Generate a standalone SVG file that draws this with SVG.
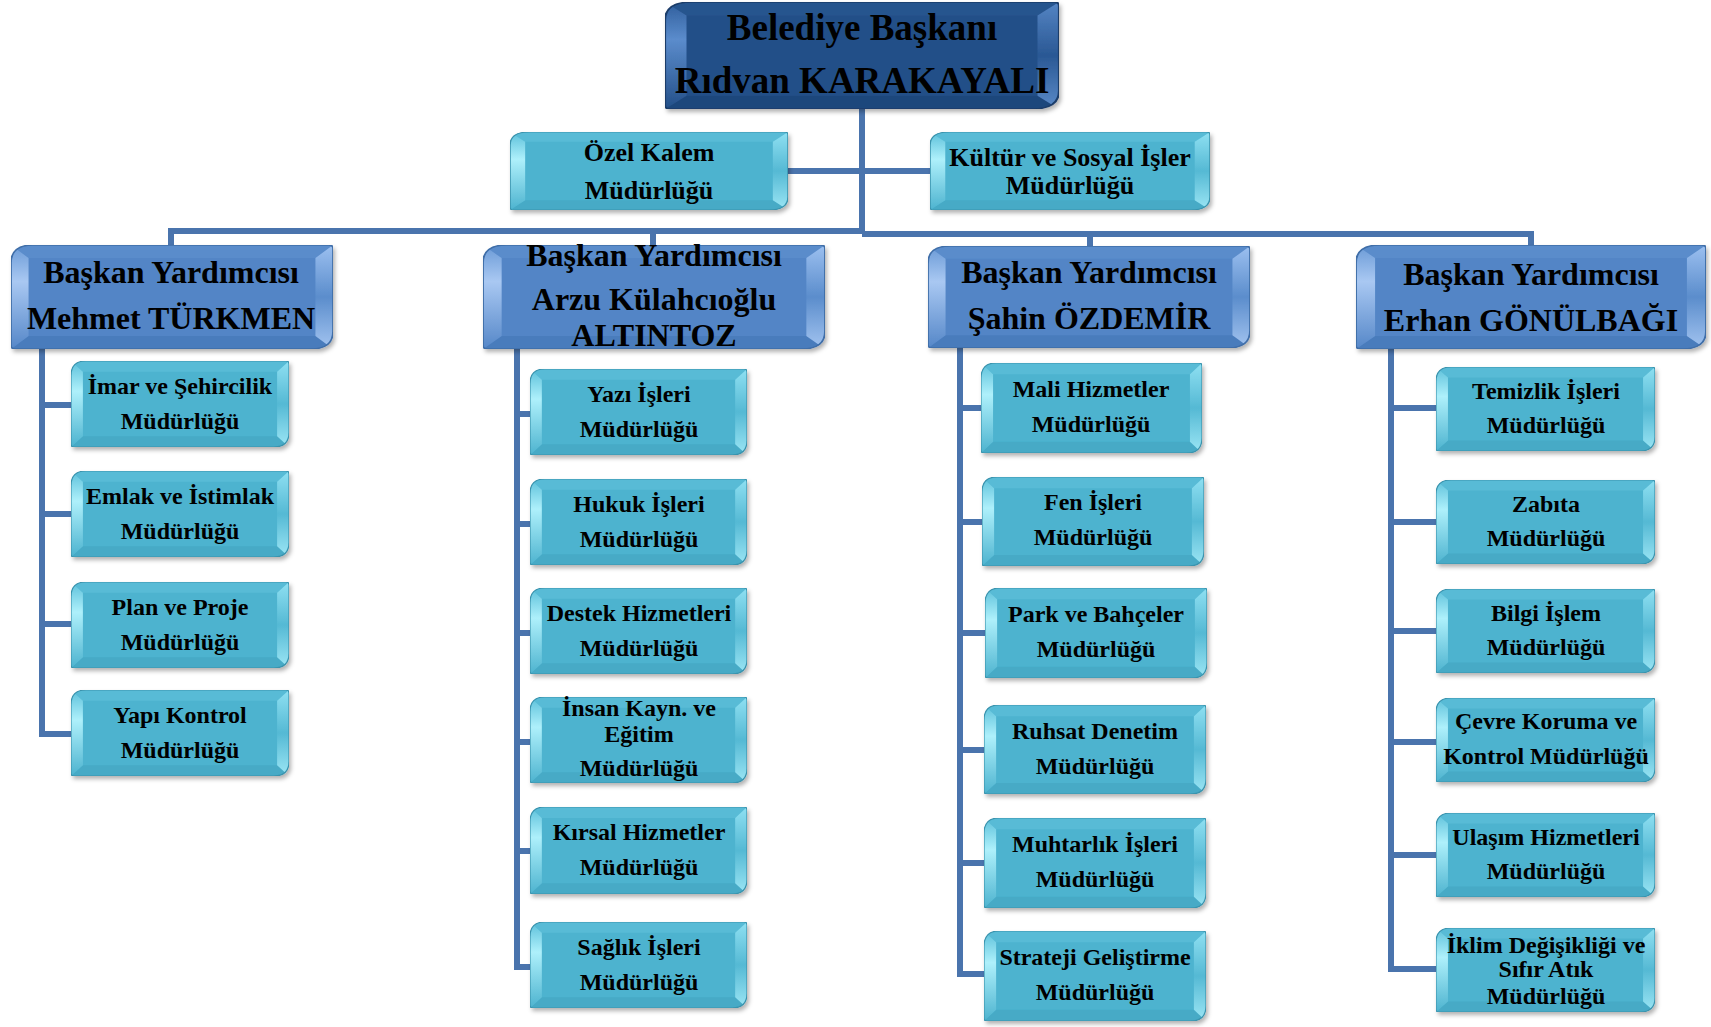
<svg xmlns="http://www.w3.org/2000/svg" xmlns:xlink="http://www.w3.org/1999/xlink" width="1711" height="1027" viewBox="0 0 1711 1027">
<style>
text{font-family:"Liberation Serif","Times New Roman",serif;font-weight:bold;fill:#000;text-anchor:middle}
.t1{font-size:37px}
.t2{font-size:32px}
.t3{font-size:24px}
.t4{font-size:26px}
.c{fill:none;stroke:#4a74ad;stroke-width:6;stroke-linejoin:miter}
</style>
<defs>
<filter id="sh" x="-5%" y="-5%" width="115%" height="125%">
<feDropShadow dx="2" dy="3" stdDeviation="2" flood-color="#000" flood-opacity="0.3"/>
</filter>
<clipPath id="cp"><path d="M15,0 H217 Q220,0 220,3 V73 Q220,88 205,88 H3 Q0,88 0,85 V15 Q0,0 15,0 Z"/></clipPath>
<linearGradient id="gcL" x1="0" y1="0" x2="0" y2="1"><stop offset="0" stop-color="#5cc0da"/><stop offset="0.35" stop-color="#aef0fb"/><stop offset="1" stop-color="#4db3cf"/></linearGradient>
<linearGradient id="gcR" x1="0" y1="0" x2="0" y2="1"><stop offset="0" stop-color="#8fe0f2"/><stop offset="0.5" stop-color="#55b9d4"/><stop offset="1" stop-color="#9ce6f5"/></linearGradient>
<linearGradient id="gbL" x1="0" y1="0" x2="0" y2="1"><stop offset="0" stop-color="#6a9ad6"/><stop offset="0.35" stop-color="#a9c8f2"/><stop offset="1" stop-color="#5587c8"/></linearGradient>
<linearGradient id="gbR" x1="0" y1="0" x2="0" y2="1"><stop offset="0" stop-color="#9cc0f0"/><stop offset="0.5" stop-color="#5b8dcc"/><stop offset="1" stop-color="#a3c4f0"/></linearGradient>
<linearGradient id="gdL" x1="0" y1="0" x2="0" y2="1"><stop offset="0" stop-color="#2f5e9c"/><stop offset="0.35" stop-color="#5b8ccc"/><stop offset="1" stop-color="#234f88"/></linearGradient>
<linearGradient id="gdR" x1="0" y1="0" x2="0" y2="1"><stop offset="0" stop-color="#5585c4"/><stop offset="0.5" stop-color="#2a5894"/><stop offset="1" stop-color="#5a8ac8"/></linearGradient>
<symbol id="child" viewBox="0 0 220 88" preserveAspectRatio="none">
<g clip-path="url(#cp)">
<rect x="0" y="0" width="220" height="88" fill="#4db3cf"/>
<polygon points="0,0 220,0 208,11 12,11" fill="#58bbd6"/>
<polygon points="0,88 220,88 208,77 12,77" fill="#46aac6"/>
<polygon points="0,0 12,11 12,77 0,88" fill="url(#gcL)"/>
<polygon points="220,0 208,11 208,77 220,88" fill="url(#gcR)"/>
</g>
<path d="M15,0 H217 Q220,0 220,3 V73 Q220,88 205,88 H3 Q0,88 0,85 V15 Q0,0 15,0 Z" fill="none" stroke="#3a93ad" stroke-width="1.2"/>
</symbol>
<symbol id="vp" viewBox="0 0 220 88" preserveAspectRatio="none">
<g clip-path="url(#cp)">
<rect x="0" y="0" width="220" height="88" fill="#5285c6"/>
<polygon points="0,0 220,0 208,11 12,11" fill="#5a8ccb"/>
<polygon points="0,88 220,88 208,77 12,77" fill="#4a7cbc"/>
<polygon points="0,0 12,11 12,77 0,88" fill="url(#gbL)"/>
<polygon points="220,0 208,11 208,77 220,88" fill="url(#gbR)"/>
</g>
<path d="M15,0 H217 Q220,0 220,3 V73 Q220,88 205,88 H3 Q0,88 0,85 V15 Q0,0 15,0 Z" fill="none" stroke="#3f6ea8" stroke-width="1.2"/>
</symbol>
<symbol id="top" viewBox="0 0 220 88" preserveAspectRatio="none">
<g clip-path="url(#cp)">
<rect x="0" y="0" width="220" height="88" fill="#234f88"/>
<polygon points="0,0 220,0 208,11 12,11" fill="#28558e"/>
<polygon points="0,88 220,88 208,77 12,77" fill="#1f477c"/>
<polygon points="0,0 12,11 12,77 0,88" fill="url(#gdL)"/>
<polygon points="220,0 208,11 208,77 220,88" fill="url(#gdR)"/>
</g>
<path d="M15,0 H217 Q220,0 220,3 V73 Q220,88 205,88 H3 Q0,88 0,85 V15 Q0,0 15,0 Z" fill="none" stroke="#1a3c69" stroke-width="1.2"/>
</symbol>
</defs>
<rect width="1711" height="1027" fill="#fff"/>

<g id="connectors">
<path class="c" d="M862,108 V233"/>
<path class="c" d="M787,171 H931"/>
<path class="c" d="M171,247 V231 H862 M862,234 H1531 V247"/>
<path class="c" d="M653,231 V247"/>
<path class="c" d="M1090,234 V247"/>
<path class="c" d="M42,348 V734 H72 M42,405 H72 M42,514 H72 M42,624 H72"/>
<path class="c" d="M517,348 V967 H531 M517,414 H531 M517,524 H531 M517,633 H531 M517,742 H531 M517,851 H531"/>
<path class="c" d="M960,348 V974 H985 M960,408 H982 M960,522 H983 M960,633 H986 M960,750 H985 M960,863 H985"/>
<path class="c" d="M1391,348 V969 H1437 M1391,408 H1437 M1391,522 H1437 M1391,631 H1437 M1391,742 H1437 M1391,855 H1437"/>
</g>

<g id="n-baskan"><use xlink:href="#top" x="665" y="2" width="394" height="107" filter="url(#sh)"/>
<text class="t1" x="862" y="40">Belediye Başkanı</text><text class="t1" x="862" y="93">Rıdvan KARAKAYALI</text></g>

<g id="n-ozel"><use xlink:href="#child" x="510" y="132" width="278" height="78" filter="url(#sh)"/>
<text class="t4" x="649" y="161">Özel Kalem</text><text class="t4" x="649" y="199">Müdürlüğü</text></g>
<g id="n-kultur"><use xlink:href="#child" x="930" y="132" width="280" height="78" filter="url(#sh)"/>
<text class="t4" x="1070" y="166">Kültür ve Sosyal İşler</text><text class="t4" x="1070" y="194">Müdürlüğü</text></g>

<g id="n-vp1"><use xlink:href="#vp" x="11" y="245" width="322" height="104" filter="url(#sh)"/>
<text class="t2" x="171" y="283">Başkan Yardımcısı</text><text class="t2" x="171" y="329">Mehmet TÜRKMEN</text></g>
<g id="n-vp2"><use xlink:href="#vp" x="483" y="245" width="342" height="104" filter="url(#sh)"/>
<text class="t2" x="654" y="266">Başkan Yardımcısı</text><text class="t2" x="654" y="310">Arzu Külahcıoğlu</text><text class="t2" x="654" y="346">ALTINTOZ</text></g>
<g id="n-vp3"><use xlink:href="#vp" x="928" y="246" width="322" height="102" filter="url(#sh)"/>
<text class="t2" x="1089" y="283">Başkan Yardımcısı</text><text class="t2" x="1089" y="329">Şahin ÖZDEMİR</text></g>
<g id="n-vp4"><use xlink:href="#vp" x="1356" y="245" width="350" height="104" filter="url(#sh)"/>
<text class="t2" x="1531" y="285">Başkan Yardımcısı</text><text class="t2" x="1531" y="331">Erhan GÖNÜLBAĞI</text></g>

<g id="n-imar"><use xlink:href="#child" x="71" y="361" width="218" height="86" filter="url(#sh)"/>
<text class="t3" x="180" y="394">İmar ve Şehircilik</text><text class="t3" x="180" y="429">Müdürlüğü</text></g>
<g id="n-emlak"><use xlink:href="#child" x="71" y="471" width="218" height="86" filter="url(#sh)"/>
<text class="t3" x="180" y="504">Emlak ve İstimlak</text><text class="t3" x="180" y="539">Müdürlüğü</text></g>
<g id="n-plan"><use xlink:href="#child" x="71" y="582" width="218" height="86" filter="url(#sh)"/>
<text class="t3" x="180" y="615">Plan ve Proje</text><text class="t3" x="180" y="650">Müdürlüğü</text></g>
<g id="n-yapi"><use xlink:href="#child" x="71" y="690" width="218" height="86" filter="url(#sh)"/>
<text class="t3" x="180" y="723">Yapı Kontrol</text><text class="t3" x="180" y="758">Müdürlüğü</text></g>

<g id="n-yazi"><use xlink:href="#child" x="530" y="369" width="217" height="86" filter="url(#sh)"/>
<text class="t3" x="639" y="402">Yazı İşleri</text><text class="t3" x="639" y="437">Müdürlüğü</text></g>
<g id="n-hukuk"><use xlink:href="#child" x="530" y="479" width="217" height="86" filter="url(#sh)"/>
<text class="t3" x="639" y="512">Hukuk İşleri</text><text class="t3" x="639" y="547">Müdürlüğü</text></g>
<g id="n-destek"><use xlink:href="#child" x="530" y="588" width="217" height="86" filter="url(#sh)"/>
<text class="t3" x="639" y="621">Destek Hizmetleri</text><text class="t3" x="639" y="656">Müdürlüğü</text></g>
<g id="n-insan"><use xlink:href="#child" x="530" y="697" width="217" height="86" filter="url(#sh)"/>
<text class="t3" x="639" y="716">İnsan Kayn. ve</text><text class="t3" x="639" y="742">Eğitim</text><text class="t3" x="639" y="776">Müdürlüğü</text></g>
<g id="n-kirsal"><use xlink:href="#child" x="530" y="807" width="217" height="87" filter="url(#sh)"/>
<text class="t3" x="639" y="840">Kırsal Hizmetler</text><text class="t3" x="639" y="875">Müdürlüğü</text></g>
<g id="n-saglik"><use xlink:href="#child" x="530" y="922" width="217" height="86" filter="url(#sh)"/>
<text class="t3" x="639" y="955">Sağlık İşleri</text><text class="t3" x="639" y="990">Müdürlüğü</text></g>

<g id="n-mali"><use xlink:href="#child" x="981" y="363" width="221" height="90" filter="url(#sh)"/>
<text class="t3" x="1091" y="397">Mali Hizmetler</text><text class="t3" x="1091" y="432">Müdürlüğü</text></g>
<g id="n-fen"><use xlink:href="#child" x="982" y="477" width="222" height="89" filter="url(#sh)"/>
<text class="t3" x="1093" y="510">Fen İşleri</text><text class="t3" x="1093" y="545">Müdürlüğü</text></g>
<g id="n-park"><use xlink:href="#child" x="985" y="588" width="222" height="90" filter="url(#sh)"/>
<text class="t3" x="1096" y="622">Park ve Bahçeler</text><text class="t3" x="1096" y="657">Müdürlüğü</text></g>
<g id="n-ruhsat"><use xlink:href="#child" x="984" y="705" width="222" height="89" filter="url(#sh)"/>
<text class="t3" x="1095" y="739">Ruhsat Denetim</text><text class="t3" x="1095" y="774">Müdürlüğü</text></g>
<g id="n-muhtarlik"><use xlink:href="#child" x="984" y="818" width="222" height="90" filter="url(#sh)"/>
<text class="t3" x="1095" y="852">Muhtarlık İşleri</text><text class="t3" x="1095" y="887">Müdürlüğü</text></g>
<g id="n-strateji"><use xlink:href="#child" x="984" y="931" width="222" height="90" filter="url(#sh)"/>
<text class="t3" x="1095" y="965">Strateji Geliştirme</text><text class="t3" x="1095" y="1000">Müdürlüğü</text></g>

<g id="n-temizlik"><use xlink:href="#child" x="1436" y="367" width="219" height="84" filter="url(#sh)"/>
<text class="t3" x="1546" y="399">Temizlik İşleri</text><text class="t3" x="1546" y="433">Müdürlüğü</text></g>
<g id="n-zabita"><use xlink:href="#child" x="1436" y="480" width="219" height="84" filter="url(#sh)"/>
<text class="t3" x="1546" y="512">Zabıta</text><text class="t3" x="1546" y="546">Müdürlüğü</text></g>
<g id="n-bilgi"><use xlink:href="#child" x="1436" y="589" width="219" height="84" filter="url(#sh)"/>
<text class="t3" x="1546" y="621">Bilgi İşlem</text><text class="t3" x="1546" y="655">Müdürlüğü</text></g>
<g id="n-cevre"><use xlink:href="#child" x="1436" y="698" width="219" height="84" filter="url(#sh)"/>
<text class="t3" x="1546" y="729">Çevre Koruma ve</text><text class="t3" x="1546" y="764">Kontrol Müdürlüğü</text></g>
<g id="n-ulasim"><use xlink:href="#child" x="1436" y="813" width="219" height="84" filter="url(#sh)"/>
<text class="t3" x="1546" y="845">Ulaşım Hizmetleri</text><text class="t3" x="1546" y="879">Müdürlüğü</text></g>
<g id="n-iklim"><use xlink:href="#child" x="1436" y="928" width="219" height="84" filter="url(#sh)"/>
<text class="t3" x="1546" y="953">İklim Değişikliği ve</text><text class="t3" x="1546" y="977">Sıfır Atık</text><text class="t3" x="1546" y="1004">Müdürlüğü</text></g>
</svg>
